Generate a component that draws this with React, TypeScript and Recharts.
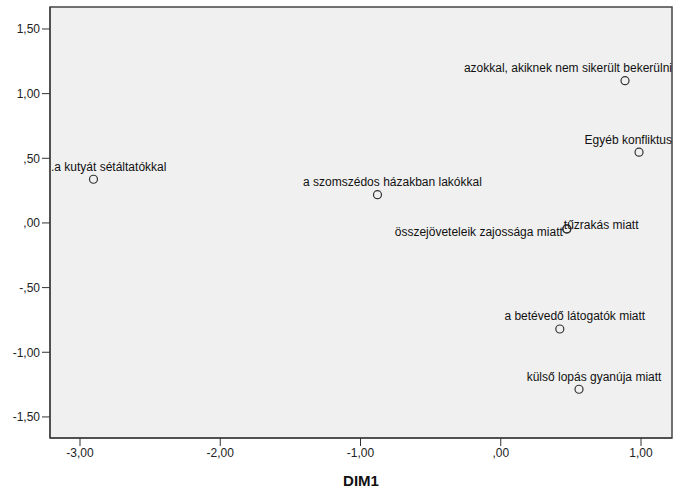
import { ReferenceArea, Scatter, ScatterChart, XAxis, YAxis } from "recharts"

const labels = [
  ".a kutyát sétáltatókkal",
  "a szomszédos házakban lakókkal",
  "azokkal, akiknek nem sikerült bekerülni",
  "Egyéb konfliktus",
  "összejöveteleik zajossága miatt",
  "tűzrakás miatt",
  "a betévedő látogatók miatt",
  "külső lopás gyanúja miatt",
]
const dim1 = [-2.904, -0.879, 0.886, 0.986, 0.471, 0.471, 0.421, 0.558]
const dim2 = [0.338, 0.219, 1.1, 0.547, -0.046, -0.046, -0.82, -1.286]
const xTicks = [-3, -2, -1, 0, 1]
const yTicks = [-1.5, -1, -0.5, 0, 0.5, 1, 1.5]

const data = labels.map((name, i) => ({ name, x: dim1[i], y: dim2[i] }))

const WIDTH = 678
const HEIGHT = 490
const MARGIN = { top: 7, right: 6, bottom: 0, left: 0 }
const Y_AXIS_WIDTH = 50
const PLOT_LEFT = MARGIN.left + Y_AXIS_WIDTH
const PLOT_RIGHT = WIDTH - MARGIN.right
const FONT = "Arial, 'Liberation Sans', sans-serif"

// where the label sits relative to its point (two points overlap)
const labelSide: Record<string, "left" | "right"> = {
  "összejöveteleik zajossága miatt": "left",
  "tűzrakás miatt": "right",
}

let ctx: CanvasRenderingContext2D | null = null
function textWidth(s: string) {
  if (!ctx) ctx = document.createElement("canvas").getContext("2d")
  if (!ctx) return s.length * 6
  ctx.font = `12px ${FONT}`
  return ctx.measureText(s).width
}

function fmt(v: number) {
  let s = Math.abs(v).toFixed(2).replace(".", ",")
  if (s.startsWith("0")) s = s.slice(1)
  return (v < 0 ? "-" : "") + s
}

function PointShape(props: any) {
  const { cx, cy, payload } = props
  const name: string = payload.name
  const side = labelSide[name]
  let tx = cx
  let ty = cy - 8.5
  let anchor: "start" | "end" = "start"
  if (side === "left") {
    tx = cx - 4
    ty = cy + 7
    anchor = "end"
  } else if (side === "right") {
    tx = cx - 3
    ty = cy
  } else {
    const w = textWidth(name)
    tx = cx + 15 - w / 2
    if (tx + w > PLOT_RIGHT) tx = PLOT_RIGHT - w
    if (tx < PLOT_LEFT + 1) tx = PLOT_LEFT + 1
  }
  return (
    <g>
      <circle cx={cx} cy={cy} r={4} fill="none" stroke="#333" strokeWidth={1.2} />
      <text x={tx} y={ty} textAnchor={anchor} fontSize={12} fontFamily={FONT} fill="#111">
        {name}
      </text>
    </g>
  )
}

export default function App() {
  return (
    <div style={{ position: "absolute", left: 0, top: 0, background: "#fff", fontFamily: FONT }}>
      <ScatterChart width={WIDTH} height={HEIGHT} margin={MARGIN}>
        <XAxis
          type="number"
          dataKey="x"
          domain={[-3.214, 1.221]}
          allowDataOverflow
          ticks={xTicks}
          tickFormatter={fmt}
          height={52}
          tickSize={8}
          tickMargin={2}
          stroke="#333"
          tick={{ fill: "#222", fontSize: 12 }}
          label={{ value: "DIM1", position: "insideBottom", offset: 4, fontSize: 15, fontWeight: "bold", fill: "#111" }}
        />
        <YAxis
          type="number"
          dataKey="y"
          domain={[-1.663, 1.67]}
          allowDataOverflow
          ticks={yTicks}
          tickFormatter={fmt}
          width={Y_AXIS_WIDTH}
          tickSize={8}
          tickMargin={2}
          stroke="#333"
          tick={{ fill: "#222", fontSize: 12 }}
        />
        <ReferenceArea x1={-3.214} x2={1.221} y1={-1.663} y2={1.67} fill="#F0F0F0" fillOpacity={1} stroke="#444" strokeWidth={1.5} />
        <Scatter data={data} isAnimationActive={false} shape={PointShape} />
      </ScatterChart>
    </div>
  )
}
